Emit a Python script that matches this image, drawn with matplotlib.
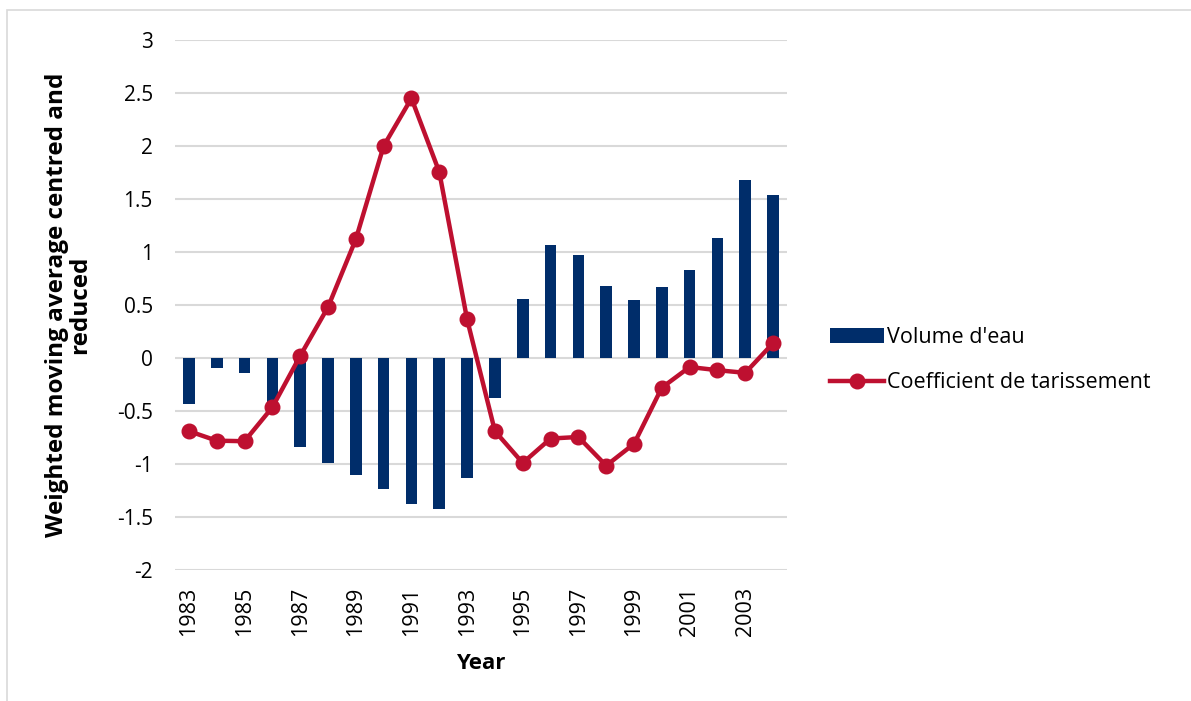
import matplotlib
matplotlib.use("Agg")
import matplotlib.pyplot as plt
from matplotlib.patches import Rectangle
import numpy as np

years = list(range(1983, 2005))
volume_eau = [-0.43, -0.09, -0.145, -0.45, -0.84, -0.99, -1.10, -1.24, -1.38, -1.42, -1.13,
              -0.38, 0.56, 1.065, 0.975, 0.675, 0.55, 0.67, 0.83, 1.135, 1.68, 1.54]
coef_tarissement = [-0.69, -0.78, -0.785, -0.465, 0.02, 0.48, 1.12, 2.0, 2.45, 1.755, 0.365,
                    -0.69, -0.99, -0.76, -0.745, -1.015, -0.81, -0.28, -0.085, -0.115, -0.14, 0.14]
y_ticks = [3, 2.5, 2, 1.5, 1, 0.5, 0, -0.5, -1, -1.5, -2]
y_tick_labels = ["3", "2.5", "2", "1.5", "1", "0.5", "0", "-0.5", "-1", "-1.5", "-2"]
x_tick_labels = [str(y) for y in years[::2]]

plt.rcParams['font.family'] = ['Open Sans', 'DejaVu Sans']

fig = plt.figure(figsize=(11.91, 7.01), dpi=100)
W, H = 1191, 701
ax = fig.add_axes([175 / W, 1 - 570 / H, (787 - 175) / W, (570 - 40) / H])

x = np.arange(len(years))
navy = '#002D6A'
red = '#BE1030'

bars = ax.bar(x, volume_eau, width=0.42, color=navy, zorder=2, label="Volume d'eau")
line, = ax.plot(x, coef_tarissement, color=red, lw=3.2, marker='o', markersize=10.5,
                zorder=3, label='Coefficient de tarissement')

ax.set_xlim(-0.5, len(years) - 0.5)
ax.set_ylim(-2, 3)
ax.set_yticks(y_ticks)
ax.set_yticklabels(y_tick_labels, fontsize=15)
ax.set_xticks(x[::2])
ax.set_xticklabels(x_tick_labels, rotation=90, fontsize=15.5)
ax.tick_params(axis='both', length=0)
ax.tick_params(axis='y', pad=16)
ax.tick_params(axis='x', pad=12)
ax.grid(axis='y', color='#D9D9D9', lw=1.5, zorder=0)
ax.set_axisbelow(True)
for s in ax.spines.values():
    s.set_visible(False)

ax.set_xlabel('Year', fontsize=16, fontweight='bold', labelpad=12)
ax.set_ylabel("Weighted moving average centred and\nreduced", fontsize=17.5,
              fontweight='bold', labelpad=18, linespacing=0.95)

leg = fig.legend(handles=[bars, line], labels=["Volume d'eau", 'Coefficient de tarissement'],
                 loc='center left', bbox_to_anchor=(811 / W, 1 - 360 / H), frameon=False,
                 fontsize=15.5, handlelength=2.5, handletextpad=0.15, labelspacing=1.15)

fig.patches.append(Rectangle((7 / W, -0.1), 1.2, 1.1 - 10 / H, transform=fig.transFigure,
                             fill=False, edgecolor='#D9D9D9', lw=1.2))

fig.savefig('out.png', dpi=100)
